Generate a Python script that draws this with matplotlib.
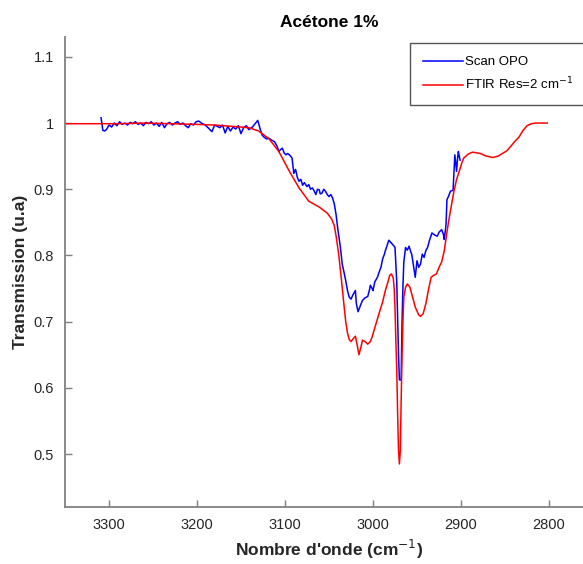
import numpy as np
import matplotlib.pyplot as plt

plt.rcParams['font.family'] = ['Liberation Sans', 'DejaVu Sans']

# Scan OPO (bleu)
opo_x = [3309, 3307, 3305, 3303, 3300, 3297, 3294, 3291, 3288, 3285, 3282, 3279, 3276,
         3273, 3270, 3267, 3264, 3261, 3258, 3255, 3252, 3249, 3246, 3243, 3240, 3237,
         3234, 3231, 3228, 3225, 3222, 3219, 3216, 3213, 3210, 3207, 3204, 3201, 3198,
         3195, 3192, 3189, 3186, 3183, 3180, 3177, 3174, 3171, 3168, 3165, 3162, 3159,
         3156, 3153, 3150, 3147, 3144, 3141, 3137, 3134, 3131, 3128, 3126, 3124, 3121,
         3118, 3115, 3112, 3109, 3107, 3105, 3103, 3101, 3099, 3097, 3095, 3093, 3092,
         3090, 3088, 3086, 3084, 3082, 3080, 3078, 3075, 3073, 3071, 3069, 3067, 3065,
         3063, 3061, 3060, 3058, 3056, 3054, 3052, 3050, 3048, 3046, 3044, 3042, 3040,
         3037, 3035, 3033, 3031, 3029, 3027, 3025, 3023, 3020, 3019, 3017, 3015, 3012,
         3009, 3006, 3004, 3003, 3001, 3000, 2998, 2995, 2993, 2991, 2989, 2987, 2986,
         2984, 2982, 2980, 2978, 2976, 2975, 2973, 2972, 2971, 2970, 2969, 2968, 2967,
         2966, 2965, 2963, 2961, 2959, 2957, 2956, 2954, 2952, 2951, 2950, 2948, 2946,
         2944, 2942, 2940, 2938, 2936, 2933, 2930, 2927, 2925, 2922, 2920, 2919, 2917,
         2916, 2914, 2912, 2910, 2909, 2908, 2907, 2906, 2905, 2904, 2903, 2902, 2901]
opo_y = [1.008, 0.989, 0.988, 0.990, 0.997, 0.994, 1.000, 0.996, 1.002, 0.998, 1.000, 0.997,
         1.001, 0.999, 1.002, 0.998, 1.000, 0.996, 1.001, 0.999, 1.002, 0.997, 1.000, 0.995,
         1.001, 0.993, 0.999, 1.001, 0.997, 1.000, 1.002, 0.998, 1.000, 0.996, 0.993, 0.999,
         0.997, 1.002, 1.003, 1.000, 0.998, 0.995, 0.991, 0.987, 0.997, 0.995, 0.993, 0.997,
         0.985, 0.995, 0.988, 0.994, 0.991, 0.996, 0.984, 0.993, 0.996, 0.990, 0.994, 0.999,
         1.004, 0.990, 0.982, 0.979, 0.976, 0.977, 0.974, 0.972, 0.965, 0.957, 0.960, 0.962,
         0.955, 0.952, 0.954, 0.952, 0.949, 0.947, 0.924, 0.930, 0.918, 0.912, 0.915, 0.906,
         0.910, 0.904, 0.907, 0.900, 0.902, 0.898, 0.892, 0.900, 0.899, 0.893, 0.894, 0.900,
         0.897, 0.892, 0.889, 0.892, 0.887, 0.878, 0.862, 0.840, 0.812, 0.787, 0.775, 0.762,
         0.747, 0.737, 0.734, 0.740, 0.747, 0.728, 0.715, 0.722, 0.732, 0.736, 0.738, 0.748,
         0.755, 0.750, 0.747, 0.760, 0.767, 0.775, 0.782, 0.795, 0.802, 0.807, 0.815, 0.823,
         0.820, 0.817, 0.814, 0.812, 0.760, 0.702, 0.650, 0.612, 0.612, 0.612, 0.700, 0.752,
         0.790, 0.812, 0.808, 0.814, 0.805, 0.802, 0.785, 0.767, 0.780, 0.792, 0.782, 0.787,
         0.802, 0.797, 0.807, 0.812, 0.822, 0.834, 0.831, 0.829, 0.835, 0.839, 0.832, 0.824,
         0.847, 0.884, 0.890, 0.897, 0.898, 0.899, 0.925, 0.952, 0.940, 0.927, 0.945, 0.957,
         0.950, 0.944]

# FTIR Res=2 cm-1 (rouge)
ftir_x = [3351, 3320, 3290, 3260, 3230, 3200, 3180, 3160, 3141, 3130, 3118, 3107, 3095,
          3084, 3073, 3061, 3052, 3047, 3044, 3042, 3039, 3037, 3035, 3033, 3031, 3029,
          3027, 3025, 3022, 3020, 3018, 3016, 3014, 3012, 3009, 3006, 3003, 3001, 2997,
          2993, 2989, 2986, 2983, 2981, 2979, 2977, 2976, 2975, 2974, 2973, 2972, 2971,
          2970, 2969, 2968, 2967, 2966, 2965, 2963, 2961, 2958, 2955, 2952, 2948, 2946,
          2943, 2940, 2937, 2934, 2931, 2928, 2925, 2922, 2919, 2916, 2914, 2911, 2908,
          2905, 2902, 2899, 2897, 2892, 2887, 2882, 2878, 2871, 2864, 2858, 2853, 2848,
          2844, 2839, 2834, 2830, 2825, 2820, 2815, 2808, 2802]
ftir_y = [0.999, 0.999, 0.999, 1.000, 0.999, 0.998, 0.997, 0.995, 0.993, 0.988, 0.976, 0.957,
          0.927, 0.902, 0.882, 0.873, 0.864, 0.855, 0.845, 0.830, 0.802, 0.777, 0.752, 0.725,
          0.700, 0.683, 0.673, 0.670, 0.675, 0.678, 0.665, 0.650, 0.660, 0.672, 0.670, 0.666,
          0.670, 0.677, 0.695, 0.713, 0.730, 0.747, 0.760, 0.770, 0.772, 0.766, 0.752, 0.720,
          0.670, 0.627, 0.560, 0.505, 0.485, 0.505, 0.580, 0.650, 0.700, 0.737, 0.752, 0.757,
          0.752, 0.737, 0.722, 0.710, 0.708, 0.712, 0.727, 0.748, 0.767, 0.770, 0.772, 0.782,
          0.790, 0.807, 0.835, 0.852, 0.875, 0.897, 0.915, 0.927, 0.940, 0.947, 0.953, 0.956,
          0.955, 0.954, 0.950, 0.948, 0.950, 0.954, 0.958, 0.964, 0.972, 0.979, 0.988, 0.996,
          0.999, 1.000, 1.000, 1.000]

fig = plt.figure(figsize=(5.83, 5.64), dpi=100)
ax = fig.add_axes([65/583, 57/564, 528/583, 470/564])

ax.plot(opo_x, opo_y, color='#0000ff', lw=1.1, label='Scan OPO')
ax.plot(ftir_x, ftir_y, color='#ff0000', lw=1.1, label='FTIR Res=2 cm$^{-1}$')

ax.set_xlim(3350, 2750)
ax.set_ylim(0.42, 1.13)
ax.set_xticks([3300, 3200, 3100, 3000, 2900, 2800])
ax.set_yticks([0.5, 0.6, 0.7, 0.8, 0.9, 1.0, 1.1])
ax.set_yticklabels(['0.5', '0.6', '0.7', '0.8', '0.9', '1', '1.1'])

for s in ['top', 'right']:
    ax.spines[s].set_visible(False)
for s in ['left', 'bottom']:
    ax.spines[s].set_color('#808080')
    ax.spines[s].set_linewidth(1.3)
ax.tick_params(direction='in', length=5, width=1, color='#808080',
               labelcolor='#262626', labelsize=10.5, pad=8)

ax.set_title('Acétone 1%', fontsize=12.5, fontweight='bold', pad=7)
ax.set_xlabel("Nombre d'onde (cm$^{-1}$)", fontsize=12.5, fontweight='bold',
              color='#262626', labelpad=4)
ax.set_ylabel('Transmission (u.a)', fontsize=12.5, fontweight='bold', color='#262626')

leg = ax.legend(loc='upper left', bbox_to_anchor=(410/583, 1 - 43/564),
                bbox_transform=fig.transFigure, fontsize=9.5, handlelength=3.0,
                fancybox=False, framealpha=1, borderaxespad=0, labelspacing=0.55,
                borderpad=1.0, handletextpad=0.2)
leg.get_frame().set_edgecolor('#555555')
leg.get_frame().set_linewidth(1)

fig.savefig('out.png', dpi=100)
